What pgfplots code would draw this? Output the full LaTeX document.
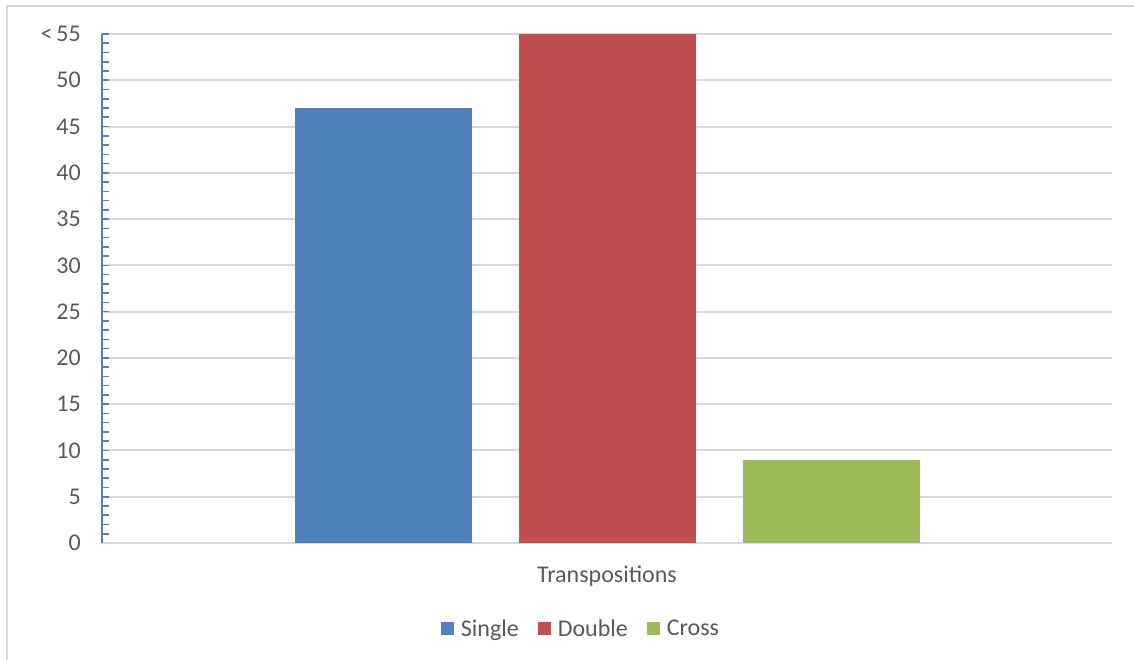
\documentclass[border=0pt]{standalone}
\usepackage{fontspec}
\setmainfont{Carlito}
\usepackage{pgfplots}
\pgfplotsset{compat=1.18}
\definecolor{cblue}{HTML}{4F81BD}
\definecolor{cred}{HTML}{C0504D}
\definecolor{cgreen}{HTML}{9BBB59}
\definecolor{cgrid}{HTML}{D9D9D9}
\definecolor{ctext}{HTML}{595959}
\begin{document}
\begin{tikzpicture}[font=\fontsize{24bp}{29bp}\selectfont]
\useasboundingbox (0,0) rectangle (1134bp,660bp);
\draw[cgrid, line width=2bp] (7bp,0) -- (7bp,654bp) -- (1134bp,654bp);
\begin{axis}[
  at={(102bp,117bp)}, anchor=south west,
  scale only axis, width=1010bp, height=509bp,
  xmin=-0.5, xmax=0.5, ymin=0, ymax=55,
  enlargelimits=false,
  ybar=47bp, bar width=177bp,
  axis x line*=bottom, axis y line*=left,
  x axis line style={cgrid, line width=2bp},
  y axis line style={cblue, line width=2.5bp},
  xtick={0}, xticklabels={Transpositions},
  xtick style={draw=none},
  xticklabel style={anchor=north, inner sep=0pt, yshift=-23bp, text=ctext},
  ytick={0,5,...,55},
  yticklabels={0,5,10,15,20,25,30,35,40,45,50,{<\hspace{4bp}55}},
  yticklabel style={anchor=east, inner sep=0pt, xshift=-21bp, text=ctext},
  minor y tick num=4,
  tick align=inside,
  ytick style={cblue, line width=1.6bp},
  major tick length=7bp, minor tick length=7bp,
  ymajorgrids, major grid style={cgrid, line width=2bp},
  legend columns=3,
  legend style={at={(0.5,-0.168)}, anchor=center, xshift=-27bp, draw=none, fill=none,
    nodes={inner sep=0pt, text=ctext},
    /tikz/every odd column/.append style={column sep=7bp},
    /tikz/every even column/.append style={column sep=19bp}},
  legend image code/.code={\fill[#1] (0bp,-6.5bp) rectangle (13bp,6.5bp);},
]
\addplot[fill=cblue, draw=none] coordinates {(0,47)};
\addplot[fill=cred, draw=none] coordinates {(0,55)};
\addplot[fill=cgreen, draw=none] coordinates {(0,9)};
\legend{Single,Double,Cross}
\end{axis}
\end{tikzpicture}
\end{document}
